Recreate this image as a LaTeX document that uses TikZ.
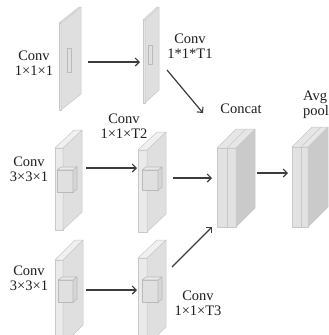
\documentclass[tikz,border=0pt]{standalone}
\usepackage{fontspec}
\setmainfont{Liberation Serif}
\usetikzlibrary{arrows.meta}

\definecolor{edgegray}{HTML}{C8C8C8}
\definecolor{cubeedge}{HTML}{BABABA}
\definecolor{facefront}{HTML}{EAEAEA}
\definecolor{faceside}{HTML}{DFDFDF}
\definecolor{facetop}{HTML}{F0F0F0}
\definecolor{cubefront}{HTML}{E0E0E0}
\definecolor{cubeside}{HTML}{D6D6D6}
\definecolor{cubetop}{HTML}{EAEAEA}
\definecolor{blockfront}{HTML}{E2E2E2}
\definecolor{blockside}{HTML}{CACACA}
\definecolor{blocktop}{HTML}{E6E6E6}
\definecolor{arrowgray}{HTML}{3C3C3C}
\definecolor{textgray}{HTML}{1E1E1E}

% a box: #1 left x, #2 top y, #3 front width, #4 bottom y, #5 depth dx, #6 depth dy,
% #7 front colour, #8 side colour, #9 top colour; edges use the current edge colour
\newcommand\drawslab[9]{%
  \filldraw[fill=#7] (#1,#2) rectangle (#1+#3,#4);
  \filldraw[fill=#8] (#1+#3,#2) -- (#1+#3+#5,#2+#6) -- (#1+#3+#5,#4+#6) -- (#1+#3,#4) -- cycle;
  \filldraw[fill=#9] (#1,#2) -- (#1+#5,#2+#6) -- (#1+#3+#5,#2+#6) -- (#1+#3,#2) -- cycle;
}

\tikzset{
  lbl/.style={font=\fontsize{14.5}{15}\selectfont, text=textgray, align=center, inner sep=1pt},
  flow/.style={draw=arrowgray, line width=1.2pt, -{Straight Barb[length=4pt,width=8pt,line width=1.1pt]}},
  slabedge/.style={draw=edgegray, line width=0.5pt, line join=round},
  cubestyle/.style={draw=cubeedge, line width=0.6pt, line join=round},
}

\begin{document}
\begin{tikzpicture}[x=1pt,y=-1pt]
\clip (0,0) rectangle (329,335);
\fill[white] (0,0) rectangle (329,335);

% top row: thin planes with a small kernel mark
\begin{scope}[slabedge]
  \drawslab{59}{23}{2}{110}{20}{-16}{facefront}{faceside}{facetop}
  \drawslab{143}{20}{2}{103}{14}{-13}{facefront}{faceside}{facetop}
\end{scope}
\filldraw[cubestyle, fill=cubefront] (67,48) rectangle (71,72);
\filldraw[cubestyle, fill=cubefront] (148,45) rectangle (152,64);

% middle row: slabs with a 3D kernel cube
\begin{scope}[slabedge]
  \drawslab{55}{148}{8}{230}{19}{-18}{facefront}{faceside}{facetop}
  \drawslab{138}{150}{9}{232}{19}{-18}{facefront}{faceside}{facetop}
\end{scope}
\begin{scope}[cubestyle]
  \drawslab{57}{170}{16}{192}{4}{-3}{cubefront}{cubeside}{cubetop}
  \drawslab{142}{170}{16}{190}{4}{-3}{cubefront}{cubeside}{cubetop}
\end{scope}

% bottom row
\begin{scope}[slabedge]
  \drawslab{55}{260}{8}{345}{20}{-20}{facefront}{faceside}{facetop}
  \drawslab{138}{258}{9}{345}{19}{-18}{facefront}{faceside}{facetop}
\end{scope}
\begin{scope}[cubestyle]
  \drawslab{58}{280}{15}{302}{4}{-3}{cubefront}{cubeside}{cubetop}
  \drawslab{142}{280}{16}{302}{4}{-3}{cubefront}{cubeside}{cubetop}
\end{scope}

% concatenated block and pooled block
\begin{scope}[slabedge]
  \drawslab{217}{148}{19}{227}{19}{-19}{blockfront}{blockside}{blocktop}
  \draw (227,148) -- (227,227);
  \draw (227,148) -- (246,129);
  \drawslab{292}{147}{16}{227}{20}{-20}{blockfront}{blockside}{blocktop}
  \draw (301,147) -- (301,227);
  \draw (301,147) -- (321,127);
\end{scope}

% labels
\node[lbl] (l1) at (34,63) {Conv\\1×1×1};
\node[lbl] (l2) at (190,46) {Conv\\1*1*T1};
\node[lbl] (l3) at (124,126) {Conv\\1×1×T2};
\node[lbl] (l4) at (29,169) {Conv\\3×3×1};
\node[lbl] (l5) at (29,278) {Conv\\3×3×1};
\node[lbl] (l6) at (198,303) {Conv\\1×1×T3};
\node[lbl] (l7) at (241,109) {Concat};
\node[lbl, anchor=west, align=left] (l8) at (302,105) {Avg\\pool};

% arrow end points
\coordinate (a1s) at (88,62);   \coordinate (a1e) at (140,62);
\coordinate (a2s) at (167,70);  \coordinate (a2e) at (203,113);
\coordinate (a3s) at (86,168);  \coordinate (a3e) at (137,168);
\coordinate (a4s) at (173,178); \coordinate (a4e) at (212,178);
\coordinate (a5s) at (257,173); \coordinate (a5e) at (288,173);
\coordinate (a6s) at (86,290);  \coordinate (a6e) at (137,290);
\coordinate (a7s) at (172,267); \coordinate (a7e) at (212,227);

\draw[flow] (a1s) -- (a1e);
\draw[flow] (a2s) -- (a2e);
\draw[flow] (a3s) -- (a3e);
\draw[flow] (a4s) -- (a4e);
\draw[flow] (a5s) -- (a5e);
\draw[flow] (a6s) -- (a6e);
\draw[flow] (a7s) -- (a7e);
\end{tikzpicture}
\end{document}
